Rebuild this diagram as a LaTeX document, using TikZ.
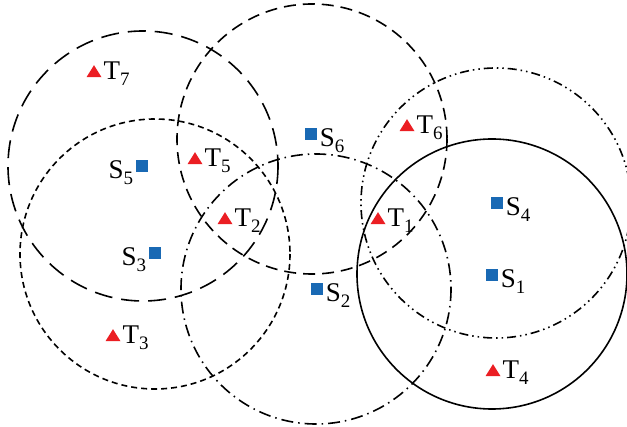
\documentclass[tikz,border=0pt]{standalone}
\usepackage{fontspec}
\setmainfont{Liberation Serif}
\usepackage{xcolor}
\definecolor{sensorblue}{RGB}{25, 105, 180}
\definecolor{targetred}{RGB}{235, 30, 35}
\usepackage{tikz}
\usetikzlibrary{positioning, shapes.geometric}
\newcommand{\idx}[2]{#1\raisebox{-6pt}{\fontsize{19}{19}\selectfont #2}}

\begin{document}
\begin{tikzpicture}[x=1pt, y=-1pt, line width=1.6pt,
    sensor/.style={fill=sensorblue, minimum size=12.5pt, inner sep=0pt},
    target/.style={fill=targetred, isosceles triangle, shape border rotate=90,
        isosceles triangle stretches, minimum width=15pt, minimum height=12pt, inner sep=0pt},
    tag/.style={inner sep=0pt, font=\fontsize{27}{27}\selectfont},
    longdash/.style={dash pattern=on 18pt off 9pt},
    middash/.style={dash pattern=on 12pt off 7pt},
    shortdash/.style={dash pattern=on 6pt off 4pt},
    dashdot/.style={dash pattern=on 12pt off 5pt on 1.5pt off 5pt},
    dashdotdot/.style={dash pattern=on 9pt off 4pt on 1.5pt off 4pt on 1.5pt off 4pt}]
    \useasboundingbox (0,0) rectangle (627,427);

    % coverage circles
    \coordinate (c1) at (492,274);
    \coordinate (c2) at (316,289);
    \coordinate (c3) at (155,254);
    \coordinate (c4) at (496,203);
    \coordinate (c5) at (143,166);
    \coordinate (c6) at (312,139);
    \draw (c1) circle[radius=135];
    \draw[dashdot] (c2) circle[radius=135];
    \draw[shortdash] (c3) circle[radius=135];
    \draw[dashdotdot] (c4) circle[radius=135];
    \draw[longdash] (c5) circle[radius=135];
    \draw[middash] (c6) circle[radius=135];

    % sensors
    \node[sensor] (S1) at (492,275) {};
    \node[sensor] (S2) at (317,289) {};
    \node[sensor] (S3) at (155,253) {};
    \node[sensor] (S4) at (497,203) {};
    \node[sensor] (S5) at (142,166) {};
    \node[sensor] (S6) at (311,134) {};
    \node[tag, anchor=base west] (lS1) at ([xshift=1pt, yshift=-5pt]S1.south east) {\idx{S}{1}};
    \node[tag, anchor=base west] (lS2) at ([xshift=1pt, yshift=-5pt]S2.south east) {\idx{S}{2}};
    \node[tag, anchor=base east] (lS3) at ([xshift=-1pt, yshift=-5pt]S3.south west) {\idx{S}{3}};
    \node[tag, anchor=base west] (lS4) at ([xshift=1pt, yshift=-5pt]S4.south east) {\idx{S}{4}};
    \node[tag, anchor=base east] (lS5) at ([xshift=-1pt, yshift=-5pt]S5.south west) {\idx{S}{5}};
    \node[tag, anchor=base west] (lS6) at ([xshift=1pt, yshift=-5pt]S6.south east) {\idx{S}{6}};

    % targets
    \node[target] (T1) at (378,220) {};
    \node[target] (T2) at (225,220) {};
    \node[target] (T3) at (113,337) {};
    \node[target] (T4) at (493,372) {};
    \node[target] (T5) at (195,160) {};
    \node[target] (T6) at (407,127) {};
    \node[target] (T7) at (94,73) {};
    \foreach \t in {1,...,7}
        \node[tag, anchor=base west] (lT\t) at ([yshift=-2pt]T\t.right corner) {\idx{T}{\t}};
\end{tikzpicture}
\end{document}
